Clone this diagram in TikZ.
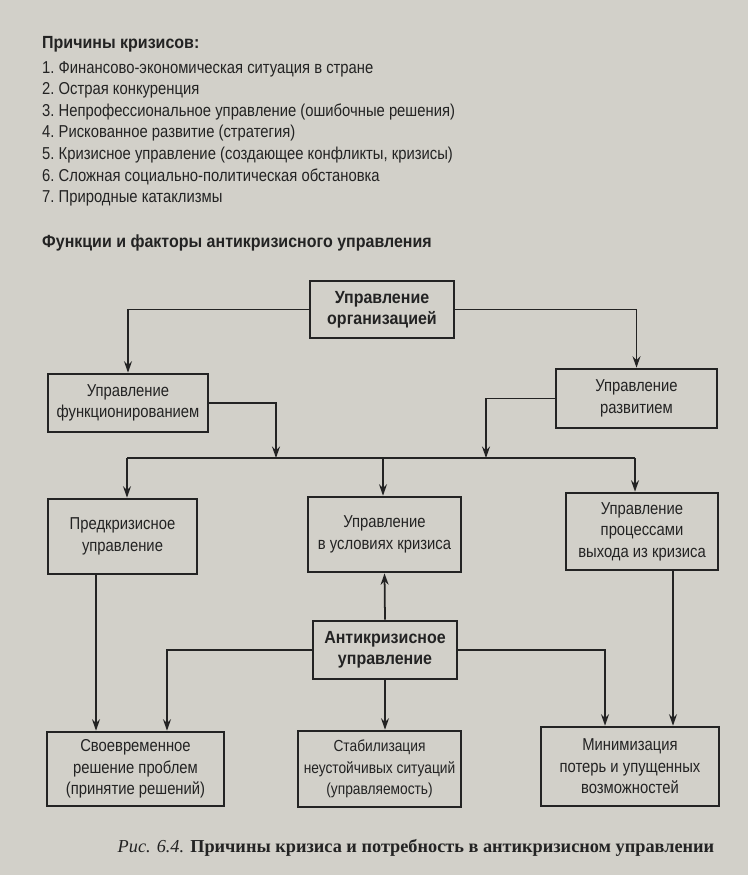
\documentclass[tikz,border=0pt]{standalone}
\usepackage{fontspec}
\setmainfont{Liberation Sans}[FakeStretch=0.86]
\newfontfamily\headfont{Liberation Sans}[FakeStretch=0.91]
\newfontfamily\capfont{Liberation Serif}
\usetikzlibrary{arrows.meta}
\definecolor{paper}{RGB}{210,208,201}
\definecolor{ink}{RGB}{35,35,35}

\begin{document}
\begin{tikzpicture}[x=0.02cm, y=-0.02cm, >={Stealth[length=6.5pt, width=4.5pt]},
    font=\fontsize{9.8}{12.2}\selectfont, color=ink]
    \fill[paper] (0,0) rectangle (748,875);
    \useasboundingbox (0,0) rectangle (748,875);
    \node[right, font=\headfont\fontsize{10}{12.2}\selectfont\bfseries] (causes) at (36, 44) {Причины кризисов:};
    \foreach \cause [count=\i] in {Финансово-экономическая ситуация в стране,
        Острая конкуренция,
        Непрофессиональное управление (ошибочные решения),
        Рискованное развитие (стратегия),
        {Кризисное управление (создающее конфликты, кризисы)},
        Сложная социально-политическая обстановка,
        Природные катаклизмы}
      \node[right] (cause\i) at (36, 47.5+21.5*\i) {\i.\ \cause};
    \node[right, font=\headfont\fontsize{10}{12.2}\selectfont\bfseries] (factors) at (36, 243) {Функции и факторы антикризисного управления};
    \begin{scope}[every node/.style = {draw, line width=1.5pt, align=center, inner sep=2pt}]
      \node[minimum width=2.88cm, minimum height=1.14cm, font=\headfont\fontsize{10}{12.2}\selectfont\bfseries]
        (org) at (382, 309.5) {Управление\\организацией};
      \node[minimum width=3.20cm, minimum height=1.16cm] (func)   at (128, 403)   {Управление\\функционированием};
      \node[minimum width=3.22cm, minimum height=1.18cm] (razv)   at (636.5, 398.5) {Управление\\развитием};
      \node[minimum width=2.98cm, minimum height=1.50cm] (pred)   at (122.5, 536.5) {Предкризисное\\управление};
      \node[minimum width=3.06cm, minimum height=1.50cm] (krizis) at (384.5, 534.5) {Управление\\в условиях кризиса};
      \node[minimum width=3.04cm, minimum height=1.54cm] (vyhod)  at (642, 531.5) {Управление\\процессами\\выхода из кризиса};
      \node[minimum width=2.88cm, minimum height=1.16cm, font=\headfont\fontsize{10}{12.2}\selectfont\bfseries]
        (anti) at (385, 650) {Антикризисное\\управление};
      \node[minimum width=3.54cm, minimum height=1.48cm] (svoevr) at (135.5, 769) {Своевременное\\решение проблем\\(принятие решений)};
      \node[minimum width=3.26cm, minimum height=1.52cm, inner xsep=0.5pt, font=\fontsize{9.1}{12.2}\selectfont]
        (stab) at (379.5, 769) {Стабилизация\\неустойчивых ситуаций\\(управляемость)};
      \node[minimum width=3.56cm, minimum height=1.58cm] (minim)  at (630, 766.5) {Минимизация\\потерь и упущенных\\возможностей};
    \end{scope}
    \coordinate (busL) at (276, 458);
    \coordinate (busR) at (486, 458);
    \coordinate (bus1) at (127, 458);
    \coordinate (bus2) at (383, 458);
    \coordinate (bus3) at (635, 458);
    \begin{scope}[line width=1pt]
      \draw[->] (org.west) -| (func.north);
      \draw[->] (org.east) -| (razv.north);
      \draw[->] (func.east) -| (busL);
      \draw[->] (razv.west) -| (busR);
      \draw (bus1) to (bus3);
      \draw[->] (bus1) to (bus1 |- pred.north);
      \draw[->] (bus2) to (bus2 |- krizis.north);
      \draw[->] (bus3) to (bus3 |- vyhod.north);
      \draw[->] ([xshift=-0.53cm]pred.south) to ([xshift=-0.53cm]pred.south |- svoevr.north);
      \draw[->] ([xshift=0.62cm]vyhod.south) to ([xshift=0.62cm]vyhod.south |- minim.north);
      \draw[->] (anti.north) to (krizis.south);
      \draw[->] (anti.west) -| ([xshift=0.63cm]svoevr.north);
      \draw[->] (anti.south) to (anti.south |- stab.north);
      \draw[->] (anti.east) -| ([xshift=-0.5cm]minim.north);
    \end{scope}
    \node[font=\capfont\fontsize{10.4}{12}\selectfont] (caption) at (416, 848)
      {\textit{Рис. 6.4.} \textbf{Причины кризиса и потребность в антикризисном управлении}};
  \end{tikzpicture}
\end{document}
